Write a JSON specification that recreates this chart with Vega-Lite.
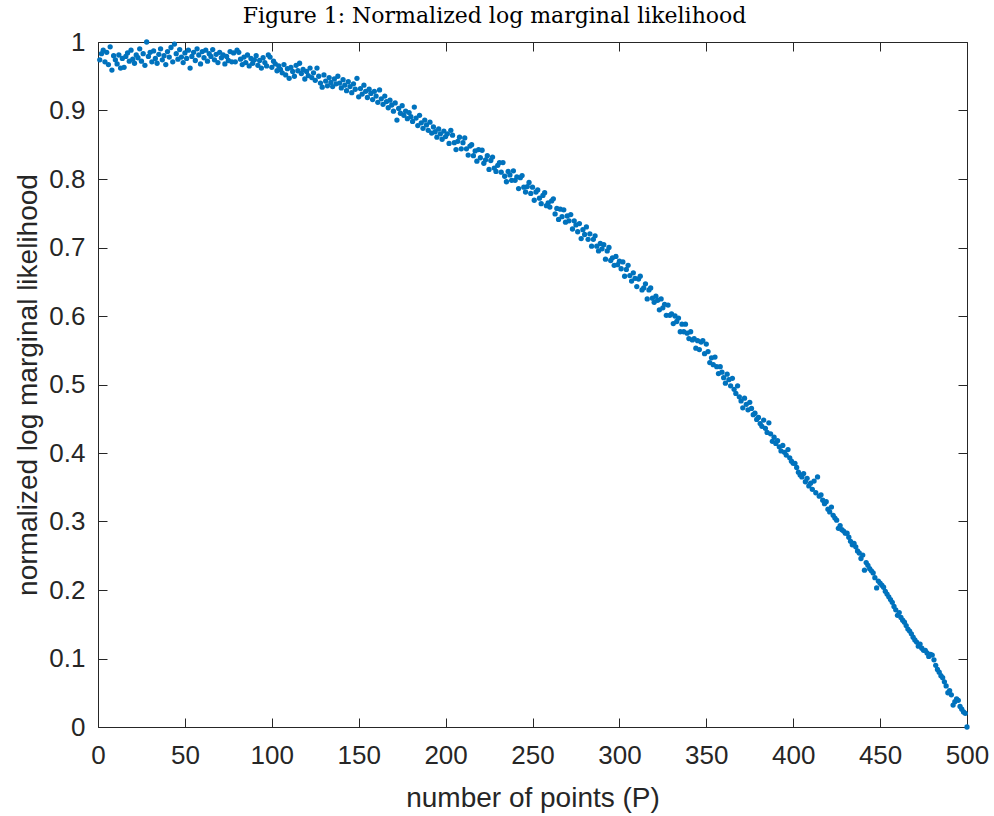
{
"$schema": "https://vega.github.io/schema/vega-lite/v6.json",
"autosize": "none",
"width": 869,
"height": 685,
"padding": {"left": 98, "top": 42, "right": 27, "bottom": 89},
"background": "white",
"title": {"text": "Figure 1: Normalized log marginal likelihood", "font": "DejaVu Serif", "fontSize": 22, "fontWeight": "normal", "color": "#000000", "anchor": "middle", "frame": "group", "dx": -38, "offset": 1},
"config": {
 "view": {"stroke": null},
 "axis": {"domainColor": "#262626", "domainWidth": 1, "tickColor": "#262626", "tickWidth": 1, "tickSize": -9, "grid": false, "labelFont": "Liberation Sans", "labelFontSize": 26, "labelColor": "#262626", "titleFont": "Liberation Sans", "titleFontSize": 28, "titleFontWeight": "normal", "titleColor": "#262626", "labelFlush": false, "labelOverlap": false, "labelBound": false}
},
"datasets": {"d": [
{"P":1,"L":0.974},{"P":2,"L":0.983},{"P":3,"L":0.988},{"P":4,"L":0.971},{"P":5,"L":0.985},{"P":6,"L":0.967},{"P":7,"L":0.993},{"P":8,"L":0.959},{"P":9,"L":0.980},{"P":10,"L":0.974},
{"P":11,"L":0.968},{"P":12,"L":0.981},{"P":13,"L":0.962},{"P":14,"L":0.976},{"P":15,"L":0.963},{"P":16,"L":0.979},{"P":17,"L":0.984},{"P":18,"L":0.972},{"P":19,"L":0.988},{"P":20,"L":0.975},
{"P":21,"L":0.969},{"P":22,"L":0.981},{"P":23,"L":0.977},{"P":24,"L":0.990},{"P":25,"L":0.972},{"P":26,"L":0.983},{"P":27,"L":0.966},{"P":28,"L":1.000},{"P":29,"L":0.979},{"P":30,"L":0.985},
{"P":31,"L":0.971},{"P":32,"L":0.987},{"P":33,"L":0.976},{"P":34,"L":0.969},{"P":35,"L":0.982},{"P":36,"L":0.990},{"P":37,"L":0.974},{"P":38,"L":0.980},{"P":39,"L":0.967},{"P":40,"L":0.986},
{"P":41,"L":0.978},{"P":42,"L":0.992},{"P":43,"L":0.971},{"P":44,"L":0.997},{"P":45,"L":0.983},{"P":46,"L":0.975},{"P":47,"L":0.989},{"P":48,"L":0.978},{"P":49,"L":0.970},{"P":50,"L":0.984},
{"P":51,"L":0.976},{"P":52,"L":0.988},{"P":53,"L":0.962},{"P":54,"L":0.979},{"P":55,"L":0.985},{"P":56,"L":0.973},{"P":57,"L":0.990},{"P":58,"L":0.981},{"P":59,"L":0.968},{"P":60,"L":0.986},
{"P":61,"L":0.977},{"P":62,"L":0.988},{"P":63,"L":0.972},{"P":64,"L":0.983},{"P":65,"L":0.979},{"P":66,"L":0.989},{"P":67,"L":0.974},{"P":68,"L":0.982},{"P":69,"L":0.970},{"P":70,"L":0.985},
{"P":71,"L":0.977},{"P":72,"L":0.981},{"P":73,"L":0.968},{"P":74,"L":0.979},{"P":75,"L":0.973},{"P":76,"L":0.986},{"P":77,"L":0.971},{"P":78,"L":0.984},{"P":79,"L":0.971},{"P":80,"L":0.988},
{"P":81,"L":0.985},{"P":82,"L":0.975},{"P":83,"L":0.967},{"P":84,"L":0.978},{"P":85,"L":0.970},{"P":86,"L":0.981},{"P":87,"L":0.965},{"P":88,"L":0.976},{"P":89,"L":0.969},{"P":90,"L":0.974},
{"P":91,"L":0.980},{"P":92,"L":0.966},{"P":93,"L":0.973},{"P":94,"L":0.962},{"P":95,"L":0.977},{"P":96,"L":0.970},{"P":97,"L":0.965},{"P":98,"L":0.981},{"P":99,"L":0.978},{"P":100,"L":0.963},
{"P":101,"L":0.972},{"P":102,"L":0.968},{"P":103,"L":0.958},{"P":104,"L":0.965},{"P":105,"L":0.960},{"P":106,"L":0.955},{"P":107,"L":0.967},{"P":108,"L":0.952},{"P":109,"L":0.961},{"P":110,"L":0.947},
{"P":111,"L":0.963},{"P":112,"L":0.957},{"P":113,"L":0.950},{"P":114,"L":0.966},{"P":115,"L":0.958},{"P":116,"L":0.969},{"P":117,"L":0.954},{"P":118,"L":0.960},{"P":119,"L":0.946},{"P":120,"L":0.957},
{"P":121,"L":0.951},{"P":122,"L":0.962},{"P":123,"L":0.948},{"P":124,"L":0.955},{"P":125,"L":0.944},{"P":126,"L":0.962},{"P":127,"L":0.950},{"P":128,"L":0.940},{"P":129,"L":0.934},{"P":130,"L":0.952},
{"P":131,"L":0.943},{"P":132,"L":0.936},{"P":133,"L":0.948},{"P":134,"L":0.941},{"P":135,"L":0.935},{"P":136,"L":0.946},{"P":137,"L":0.939},{"P":138,"L":0.950},{"P":139,"L":0.940},{"P":140,"L":0.933},
{"P":141,"L":0.945},{"P":142,"L":0.937},{"P":143,"L":0.929},{"P":144,"L":0.942},{"P":145,"L":0.935},{"P":146,"L":0.926},{"P":147,"L":0.939},{"P":148,"L":0.931},{"P":149,"L":0.947},{"P":150,"L":0.920},
{"P":151,"L":0.932},{"P":152,"L":0.924},{"P":153,"L":0.937},{"P":154,"L":0.928},{"P":155,"L":0.919},{"P":156,"L":0.931},{"P":157,"L":0.925},{"P":158,"L":0.916},{"P":159,"L":0.928},{"P":160,"L":0.921},
{"P":161,"L":0.912},{"P":162,"L":0.930},{"P":163,"L":0.917},{"P":164,"L":0.909},{"P":165,"L":0.921},{"P":166,"L":0.913},{"P":167,"L":0.904},{"P":168,"L":0.915},{"P":169,"L":0.908},{"P":170,"L":0.899},
{"P":171,"L":0.911},{"P":172,"L":0.886},{"P":173,"L":0.903},{"P":174,"L":0.896},{"P":175,"L":0.907},{"P":176,"L":0.893},{"P":177,"L":0.899},{"P":178,"L":0.888},{"P":179,"L":0.897},{"P":180,"L":0.891},
{"P":181,"L":0.884},{"P":182,"L":0.905},{"P":183,"L":0.889},{"P":184,"L":0.878},{"P":185,"L":0.893},{"P":186,"L":0.882},{"P":187,"L":0.874},{"P":188,"L":0.886},{"P":189,"L":0.879},{"P":190,"L":0.871},
{"P":191,"L":0.883},{"P":192,"L":0.867},{"P":193,"L":0.876},{"P":194,"L":0.869},{"P":195,"L":0.861},{"P":196,"L":0.873},{"P":197,"L":0.866},{"P":198,"L":0.858},{"P":199,"L":0.870},{"P":200,"L":0.862},
{"P":201,"L":0.866},{"P":202,"L":0.852},{"P":203,"L":0.871},{"P":204,"L":0.864},{"P":205,"L":0.853},{"P":206,"L":0.843},{"P":207,"L":0.855},{"P":208,"L":0.861},{"P":209,"L":0.844},{"P":210,"L":0.853},
{"P":211,"L":0.860},{"P":212,"L":0.844},{"P":213,"L":0.835},{"P":214,"L":0.848},{"P":215,"L":0.850},{"P":216,"L":0.834},{"P":217,"L":0.841},{"P":218,"L":0.826},{"P":219,"L":0.843},{"P":220,"L":0.831},
{"P":221,"L":0.842},{"P":222,"L":0.823},{"P":223,"L":0.828},{"P":224,"L":0.834},{"P":225,"L":0.814},{"P":226,"L":0.827},{"P":227,"L":0.832},{"P":228,"L":0.816},{"P":229,"L":0.811},{"P":230,"L":0.820},
{"P":231,"L":0.824},{"P":232,"L":0.810},{"P":233,"L":0.824},{"P":234,"L":0.804},{"P":235,"L":0.796},{"P":236,"L":0.811},{"P":237,"L":0.806},{"P":238,"L":0.798},{"P":239,"L":0.812},{"P":240,"L":0.798},
{"P":241,"L":0.803},{"P":242,"L":0.786},{"P":243,"L":0.802},{"P":244,"L":0.805},{"P":245,"L":0.788},{"P":246,"L":0.781},{"P":247,"L":0.789},{"P":248,"L":0.795},{"P":249,"L":0.779},{"P":250,"L":0.788},
{"P":251,"L":0.769},{"P":252,"L":0.781},{"P":253,"L":0.784},{"P":254,"L":0.772},{"P":255,"L":0.764},{"P":256,"L":0.776},{"P":257,"L":0.780},{"P":258,"L":0.761},{"P":259,"L":0.765},{"P":260,"L":0.759},
{"P":261,"L":0.768},{"P":262,"L":0.771},{"P":263,"L":0.749},{"P":264,"L":0.757},{"P":265,"L":0.741},{"P":266,"L":0.756},{"P":267,"L":0.745},{"P":268,"L":0.755},{"P":269,"L":0.737},{"P":270,"L":0.746},
{"P":271,"L":0.739},{"P":272,"L":0.748},{"P":273,"L":0.727},{"P":274,"L":0.739},{"P":275,"L":0.733},{"P":276,"L":0.723},{"P":277,"L":0.735},{"P":278,"L":0.713},{"P":279,"L":0.726},{"P":280,"L":0.719},
{"P":281,"L":0.730},{"P":282,"L":0.712},{"P":283,"L":0.720},{"P":284,"L":0.702},{"P":285,"L":0.712},{"P":286,"L":0.717},{"P":287,"L":0.702},{"P":288,"L":0.695},{"P":289,"L":0.706},{"P":290,"L":0.698},
{"P":291,"L":0.704},{"P":292,"L":0.683},{"P":293,"L":0.695},{"P":294,"L":0.700},{"P":295,"L":0.681},{"P":296,"L":0.685},{"P":297,"L":0.674},{"P":298,"L":0.687},{"P":299,"L":0.675},{"P":300,"L":0.680},
{"P":301,"L":0.669},{"P":302,"L":0.679},{"P":303,"L":0.658},{"P":304,"L":0.668},{"P":305,"L":0.674},{"P":306,"L":0.659},{"P":307,"L":0.651},{"P":308,"L":0.663},{"P":309,"L":0.655},{"P":310,"L":0.643},
{"P":311,"L":0.654},{"P":312,"L":0.658},{"P":313,"L":0.638},{"P":314,"L":0.641},{"P":315,"L":0.647},{"P":316,"L":0.625},{"P":317,"L":0.638},{"P":318,"L":0.641},{"P":319,"L":0.626},{"P":320,"L":0.620},
{"P":321,"L":0.629},{"P":322,"L":0.623},{"P":323,"L":0.609},{"P":324,"L":0.625},{"P":325,"L":0.612},{"P":326,"L":0.617},{"P":327,"L":0.601},{"P":328,"L":0.616},{"P":329,"L":0.601},{"P":330,"L":0.603},
{"P":331,"L":0.589},{"P":332,"L":0.600},{"P":333,"L":0.592},{"P":334,"L":0.597},{"P":335,"L":0.577},{"P":336,"L":0.588},{"P":337,"L":0.577},{"P":338,"L":0.588},{"P":339,"L":0.575},{"P":340,"L":0.567},
{"P":341,"L":0.577},{"P":342,"L":0.565},{"P":343,"L":0.567},{"P":344,"L":0.553},{"P":345,"L":0.564},{"P":346,"L":0.551},{"P":347,"L":0.562},{"P":348,"L":0.564},{"P":349,"L":0.545},{"P":350,"L":0.559},
{"P":351,"L":0.548},{"P":352,"L":0.532},{"P":353,"L":0.539},{"P":354,"L":0.529},{"P":355,"L":0.540},{"P":356,"L":0.526},{"P":357,"L":0.516},{"P":358,"L":0.526},{"P":359,"L":0.518},{"P":360,"L":0.510},
{"P":361,"L":0.502},{"P":362,"L":0.515},{"P":363,"L":0.507},{"P":364,"L":0.498},{"P":365,"L":0.509},{"P":366,"L":0.493},{"P":367,"L":0.487},{"P":368,"L":0.498},{"P":369,"L":0.482},{"P":370,"L":0.476},
{"P":371,"L":0.466},{"P":372,"L":0.480},{"P":373,"L":0.471},{"P":374,"L":0.463},{"P":375,"L":0.474},{"P":376,"L":0.465},{"P":377,"L":0.456},{"P":378,"L":0.458},{"P":379,"L":0.449},{"P":380,"L":0.452},
{"P":381,"L":0.443},{"P":382,"L":0.439},{"P":383,"L":0.448},{"P":384,"L":0.436},{"P":385,"L":0.430},{"P":386,"L":0.444},{"P":387,"L":0.428},{"P":388,"L":0.417},{"P":389,"L":0.423},{"P":390,"L":0.414},
{"P":391,"L":0.418},{"P":392,"L":0.409},{"P":393,"L":0.403},{"P":394,"L":0.411},{"P":395,"L":0.401},{"P":396,"L":0.397},{"P":397,"L":0.405},{"P":398,"L":0.393},{"P":399,"L":0.388},{"P":400,"L":0.385},
{"P":401,"L":0.385},{"P":402,"L":0.379},{"P":403,"L":0.372},{"P":404,"L":0.368},{"P":405,"L":0.365},{"P":406,"L":0.370},{"P":407,"L":0.358},{"P":408,"L":0.363},{"P":409,"L":0.352},{"P":410,"L":0.356},
{"P":411,"L":0.347},{"P":412,"L":0.359},{"P":413,"L":0.342},{"P":414,"L":0.365},{"P":415,"L":0.337},{"P":416,"L":0.339},{"P":417,"L":0.331},{"P":418,"L":0.326},{"P":419,"L":0.329},{"P":420,"L":0.318},
{"P":421,"L":0.314},{"P":422,"L":0.321},{"P":423,"L":0.309},{"P":424,"L":0.305},{"P":425,"L":0.302},{"P":426,"L":0.290},{"P":427,"L":0.294},{"P":428,"L":0.288},{"P":429,"L":0.286},{"P":430,"L":0.283},
{"P":431,"L":0.283},{"P":432,"L":0.277},{"P":433,"L":0.271},{"P":434,"L":0.266},{"P":435,"L":0.268},{"P":436,"L":0.263},{"P":437,"L":0.257},{"P":438,"L":0.254},{"P":439,"L":0.246},{"P":440,"L":0.251},
{"P":441,"L":0.229},{"P":442,"L":0.240},{"P":443,"L":0.236},{"P":444,"L":0.231},{"P":445,"L":0.228},{"P":446,"L":0.225},{"P":447,"L":0.218},{"P":448,"L":0.203},{"P":449,"L":0.213},{"P":450,"L":0.210},
{"P":451,"L":0.207},{"P":452,"L":0.204},{"P":453,"L":0.198},{"P":454,"L":0.194},{"P":455,"L":0.190},{"P":456,"L":0.186},{"P":457,"L":0.182},{"P":458,"L":0.176},{"P":459,"L":0.171},{"P":460,"L":0.163},
{"P":461,"L":0.167},{"P":462,"L":0.160},{"P":463,"L":0.156},{"P":464,"L":0.153},{"P":465,"L":0.148},{"P":466,"L":0.143},{"P":467,"L":0.140},{"P":468,"L":0.136},{"P":469,"L":0.131},{"P":470,"L":0.127},
{"P":471,"L":0.124},{"P":472,"L":0.118},{"P":473,"L":0.121},{"P":474,"L":0.115},{"P":475,"L":0.112},{"P":476,"L":0.112},{"P":477,"L":0.108},{"P":478,"L":0.103},{"P":479,"L":0.106},{"P":480,"L":0.105},
{"P":481,"L":0.098},{"P":482,"L":0.090},{"P":483,"L":0.084},{"P":484,"L":0.080},{"P":485,"L":0.075},{"P":486,"L":0.072},{"P":487,"L":0.066},{"P":488,"L":0.060},{"P":489,"L":0.050},{"P":490,"L":0.053},
{"P":491,"L":0.047},{"P":492,"L":0.032},{"P":493,"L":0.037},{"P":494,"L":0.041},{"P":495,"L":0.039},{"P":496,"L":0.030},{"P":497,"L":0.026},{"P":498,"L":0.022},{"P":499,"L":0.020},{"P":500,"L":0.000}
]},
"data": {"name": "d"},
"layer": [
 {
  "mark": {"type": "circle", "size": 28, "color": "#0072BD", "opacity": 1, "clip": false},
  "encoding": {
   "x": {"field": "P", "type": "quantitative", "scale": {"domain": [0, 500], "nice": false, "zero": false},
         "axis": {"orient": "bottom", "title": "number of points (P)", "values": [0,50,100,150,200,250,300,350,400,450,500], "format": "d", "labelPadding": 24, "titlePadding": 16}},
   "y": {"field": "L", "type": "quantitative", "scale": {"domain": [0, 1], "nice": false, "zero": false},
         "axis": {"orient": "left", "title": "normalized log marginal likelihood", "values": [0,0.1,0.2,0.3,0.4,0.5,0.6,0.7,0.8,0.9,1], "format": "~g", "labelPadding": 22, "titlePadding": 6}}
  }
 },
 {
  "mark": {"type": "circle", "size": 1, "opacity": 0},
  "encoding": {
   "x": {"field": "P", "type": "quantitative", "axis": {"orient": "top", "title": null, "labels": false, "values": [0,50,100,150,200,250,300,350,400,450,500]}},
   "y": {"field": "L", "type": "quantitative", "axis": {"orient": "right", "title": null, "labels": false, "values": [0,0.1,0.2,0.3,0.4,0.5,0.6,0.7,0.8,0.9,1]}}
  }
 }
],
"resolve": {"axis": {"x": "independent", "y": "independent"}}
}
